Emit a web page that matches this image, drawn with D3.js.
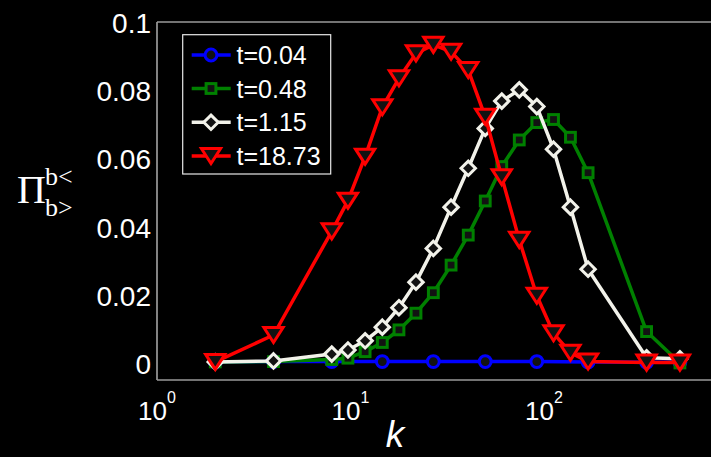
<!DOCTYPE html>
<html><head><meta charset="utf-8">
<script src="https://cdn.jsdelivr.net/npm/d3@7"></script>
<style>html,body{margin:0;padding:0;background:#000;overflow:hidden}</style>
</head><body>
<svg id="c" width="711" height="457"></svg>
<script>
// ---- data ----
const kAll   = [2, 4, 8, 9.7, 11.9, 14.6, 17.8, 21.8, 26.8, 33.1, 40.6, 49.7, 60.5, 74.5, 91.8, 112, 137, 169, 339, 504];
const kBlue  = [2, 4, 8, 14.6, 26.8, 49.7, 91.8, 169, 339, 504];
const vBlue  = [0.0003, 0.0004, 0.0004, 0.0004, 0.0004, 0.0004, 0.0004, 0.0003, 0.0002, 0.0002];
const vGreen = [0.0003, 0.0004, 0.001, 0.0014, 0.0033, 0.006, 0.0097, 0.0146, 0.0206, 0.0287, 0.0375, 0.0475, 0.0576, 0.0654, 0.0705, 0.0714, 0.0662, 0.0558, 0.0092, 0.0];
const vWhite = [0.0003, 0.0006, 0.0026, 0.0038, 0.0065, 0.0105, 0.0162, 0.0237, 0.0336, 0.0457, 0.0571, 0.0688, 0.0768, 0.0801, 0.0752, 0.0627, 0.0457, 0.0275, 0.0015, 0.0012];
const vRed   = [0.0003, 0.0082, 0.0386, 0.0476, 0.0605, 0.075, 0.0835, 0.0908, 0.0933, 0.0913, 0.0859, 0.0722, 0.0545, 0.0361, 0.0197, 0.0087, 0.003, 0.0004, 0.0001, 0.0001];
const seriesNames = ["t=0.04", "t=0.48", "t=1.15", "t=18.73"];
const yTicks = [0, 0.02, 0.04, 0.06, 0.08, 0.1];
const yTickLabels = ["0", "0.02", "0.04", "0.06", "0.08", "0.1"];
const xTicks = [1, 10, 100];
const xTickExps = ["0", "1", "2"];

const series = [
  {name: seriesNames[0], k: kBlue, v: vBlue,  color: "#0000ff", marker: "circle"},
  {name: seriesNames[1], k: kAll,  v: vGreen, color: "#008000", marker: "square"},
  {name: seriesNames[2], k: kAll,  v: vWhite, color: "#f2f2ea", marker: "diamond"},
  {name: seriesNames[3], k: kAll,  v: vRed,   color: "#ff0000", marker: "tri"}
];

const svg = d3.select("#c");
const L = 157, T = 22, B = 380, R = 737.5;
const x = d3.scaleLog().domain([1, 1000]).range([L, R]);
const y = d3.scaleLinear().domain([-0.005, 0.1]).range([B, T]);
const FILL = "#121212";

// axes box
const axisColor = "#9a9a9a";
svg.append("line").attr("x1", L).attr("x2", R).attr("y1", T).attr("y2", T).attr("stroke", axisColor).attr("stroke-width", 1.7);
svg.append("line").attr("x1", L).attr("x2", R).attr("y1", B).attr("y2", B).attr("stroke", axisColor).attr("stroke-width", 1.7);
svg.append("line").attr("x1", L).attr("x2", L).attr("y1", T).attr("y2", B).attr("stroke", axisColor).attr("stroke-width", 1.7);

// y tick labels
svg.append("g").selectAll("text").data(yTicks).join("text")
  .attr("x", 151).attr("y", d => y(d) + 11)
  .attr("text-anchor", "end")
  .attr("fill", "#fff").attr("font-family", "Liberation Sans, Arial, sans-serif").attr("font-size", 28)
  .text((d, i) => yTickLabels[i]);

// x tick labels (10^n)
const xt = svg.append("g").selectAll("text").data(xTicks).join("text")
  .attr("x", d => x(d)).attr("y", 420)
  .attr("text-anchor", "middle")
  .attr("fill", "#fff").attr("font-family", "Liberation Sans, Arial, sans-serif").attr("font-size", 26);
xt.append("tspan").text("10");
xt.append("tspan").attr("dy", -17).attr("font-size", 16).text((d, i) => xTickExps[i]);

// x label
svg.append("text").attr("x", 395).attr("y", 447).attr("text-anchor", "middle")
  .attr("fill", "#fff").attr("font-family", "Liberation Sans, Arial, sans-serif")
  .attr("font-style", "italic").attr("font-size", 37).text("k");

// y label
const yl = svg.append("g").attr("fill", "#fff").attr("font-family", "Liberation Serif, Times New Roman, serif");
yl.append("text").attr("x", 17).attr("y", 203).attr("font-size", 40).text("Π");
yl.append("text").attr("x", 45).attr("y", 185).attr("font-size", 26).text("b<");
yl.append("text").attr("x", 45).attr("y", 216).attr("font-size", 26).text("b>");

// marker drawing
function drawMarker(g, type, cx, cy, color) {
  const sw = 3;
  if (type === "circle") {
    g.append("circle").attr("cx", cx).attr("cy", cy).attr("r", 5.9)
      .attr("fill", FILL).attr("stroke", color).attr("stroke-width", sw);
  } else if (type === "square") {
    const s = 9.8;
    g.append("rect").attr("x", cx - s/2).attr("y", cy - s/2).attr("width", s).attr("height", s)
      .attr("fill", FILL).attr("stroke", color).attr("stroke-width", sw);
  } else if (type === "diamond") {
    const h = 7.2;
    g.append("path").attr("d", `M${cx},${cy-h}L${cx+h},${cy}L${cx},${cy+h}L${cx-h},${cy}Z`)
      .attr("fill", FILL).attr("stroke", color).attr("stroke-width", sw).attr("stroke-linejoin", "miter");
  } else {
    const w = 9.6, h = 7.5;
    g.append("path").attr("d", `M${cx-w},${cy-h}L${cx+w},${cy-h}L${cx},${cy+h}Z`)
      .attr("fill", FILL).attr("stroke", color).attr("stroke-width", sw).attr("stroke-linejoin", "miter");
  }
}

// clip
svg.append("clipPath").attr("id", "plotclip").append("rect").attr("x", L - 12).attr("y", T - 12).attr("width", R - L + 24).attr("height", B - T + 12);
const plot = svg.append("g").attr("clip-path", "url(#plotclip)");
const line = d3.line().x(d => x(d[0])).y(d => y(d[1]));

series.forEach(s => {
  const pts = s.k.map((k, i) => [k, s.v[i]]);
  const g = plot.append("g");
  g.append("path").attr("d", line(pts)).attr("fill", "none").attr("stroke", s.color)
    .attr("stroke-width", 3.5).attr("stroke-linejoin", "round");
  pts.forEach(p => drawMarker(g, s.marker, x(p[0]), y(p[1]), s.color));
});

// legend
const lg = svg.append("g");
lg.append("rect").attr("x", 182.7).attr("y", 34.7).attr("width", 148).attr("height", 139.3)
  .attr("fill", "#000").attr("stroke", "#e8e8e8").attr("stroke-width", 1.2);
const rowY = [55, 88.5, 122.3, 156];
series.forEach((s, i) => {
  const cy = rowY[i];
  lg.append("line").attr("x1", 191.7).attr("x2", 230.7).attr("y1", cy).attr("y2", cy)
    .attr("stroke", s.color).attr("stroke-width", 3.5);
  drawMarker(lg, s.marker, 211, cy, s.color);
  lg.append("text").attr("x", 236.5).attr("y", cy + 9).attr("fill", "#fff")
    .attr("font-family", "Liberation Sans, Arial, sans-serif").attr("font-size", 25).text(s.name);
});
</script>
</body></html>
